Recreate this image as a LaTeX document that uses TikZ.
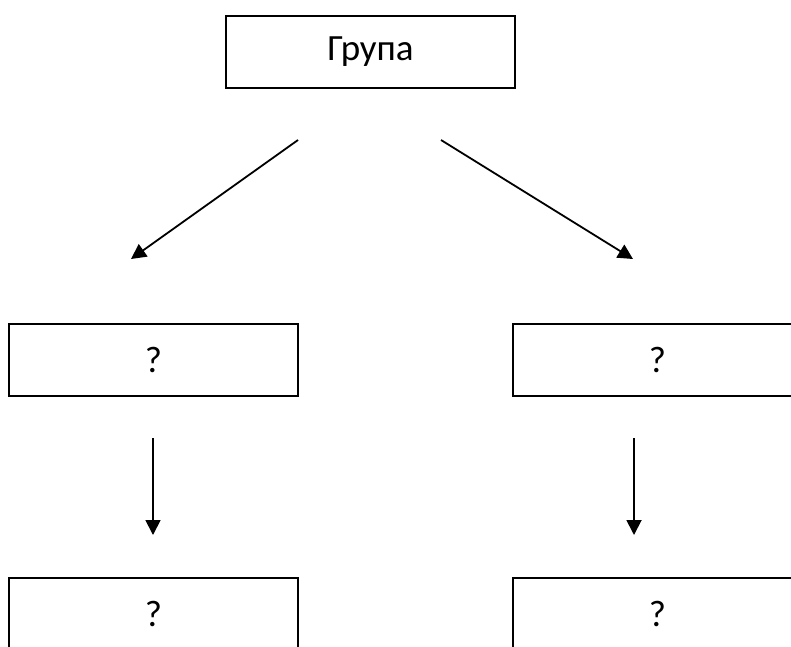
\documentclass[tikz,border=0pt]{standalone}
\usepackage{fontspec}
\setmainfont{Carlito}
\usetikzlibrary{arrows.meta}
\tikzset{
  boxline/.style={line width=1.8pt},
  box/.style={draw, boxline, minimum width=289pt, minimum height=72pt,
    inner sep=0pt, outer sep=0pt, font=\fontsize{37}{42}\selectfont},
  openbox/.style={box, draw=none},
  link/.style={line width=1.8pt, -{Triangle[length=15pt,width=15pt]}}
}
\begin{document}
\begin{tikzpicture}[x=1pt,y=-1pt]
  \useasboundingbox (0,0) rectangle (791,646);
  \clip (0,0) rectangle (791,646);
  \node[box] (top) at (370.5,52) {Група};
  \node[box] (midL) at (153.5,360) {?};
  \node[openbox] (midR) at (657.5,360) {?};
  \node[box] (botL) at (153.5,614) {?};
  \node[openbox] (botR) at (657.5,614) {?};
  % right-hand boxes run past the right edge
  \draw[boxline] (midR.north west) rectangle ++(320,72);
  \draw[boxline] (botR.north west) rectangle ++(320,72);
  \coordinate (aL1) at (298,140);
  \coordinate (aL2) at (131,259);
  \coordinate (aR1) at (441,140);
  \coordinate (aR2) at (633,259);
  \coordinate (vL1) at (153,438);
  \coordinate (vL2) at (153,535);
  \coordinate (vR1) at (634,438);
  \coordinate (vR2) at (634,535);
  \draw[link] (aL1) -- (aL2);
  \draw[link] (aR1) -- (aR2);
  \draw[link] (vL1) -- (vL2);
  \draw[link] (vR1) -- (vR2);
\end{tikzpicture}
\end{document}
